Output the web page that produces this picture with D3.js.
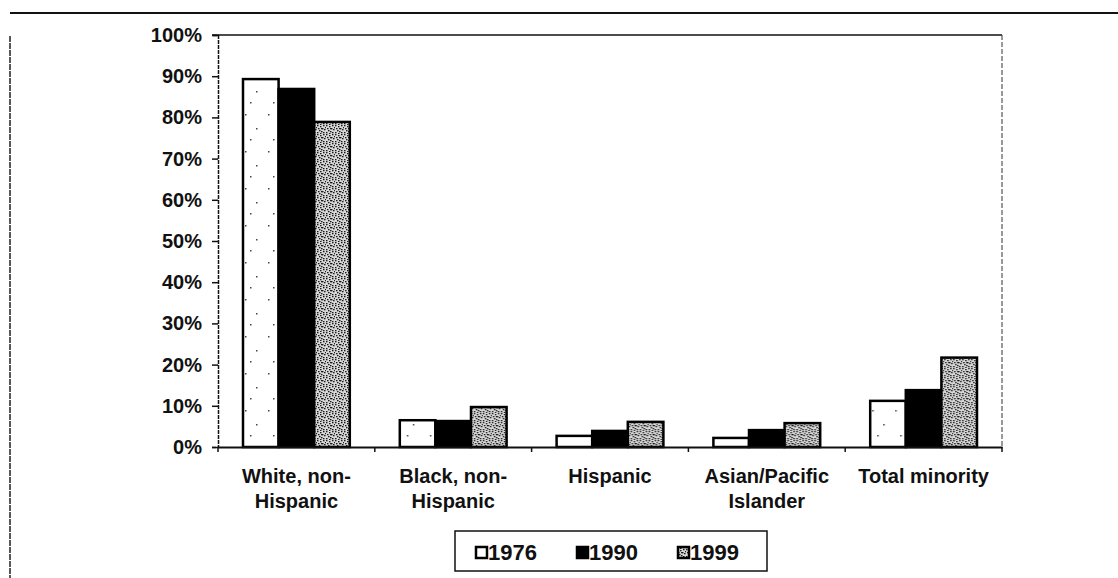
<!DOCTYPE html>
<html>
<head>
<meta charset="utf-8">
<script src="https://cdn.jsdelivr.net/npm/d3@7"></script>
<style>
  body { margin: 0; background: #fff; }
  svg text { font-family: "Liberation Sans", Arial, sans-serif; fill: #111; }
</style>
</head>
<body>
<svg id="chart"></svg>
<script>
// data (percent of students)
const categories = ["White, non-Hispanic", "Black, non-Hispanic", "Hispanic", "Asian/Pacific Islander", "Total minority"];
const categoryLines = [["White, non-", "Hispanic"], ["Black, non-", "Hispanic"], ["Hispanic"], ["Asian/Pacific", "Islander"], ["Total minority"]];
const years = ["1976", "1990", "1999"];
const values1976 = [89.3, 6.5, 2.7, 2.2, 11.2];
const values1990 = [86.9, 6.3, 3.9, 4.1, 13.8];
const values1999 = [78.9, 9.7, 6.1, 5.8, 21.7];
const yTicks = [0, 10, 20, 30, 40, 50, 60, 70, 80, 90, 100];

const W = 1118, H = 578;
const margin = { top: 35, right: 116, bottom: 131, left: 218 };
const width = W - margin.left - margin.right;
const height = H - margin.top - margin.bottom;

const svg = d3.select('#chart').attr('width', W).attr('height', H);

// fill patterns (scanned textures)
const defs = svg.append('defs');
const p76 = defs.append('pattern').attr('id', 'p1976').attr('patternUnits', 'userSpaceOnUse')
  .attr('width', 23).attr('height', 37);
p76.append('rect').attr('width', 23).attr('height', 37).attr('fill', '#fff');
[[4, 5], [15, 19], [9, 30]].forEach(d => p76.append('rect').attr('x', d[0]).attr('y', d[1]).attr('width', 1.5).attr('height', 1.5).attr('fill', '#444'));

const p99 = defs.append('pattern').attr('id', 'p1999').attr('patternUnits', 'userSpaceOnUse')
  .attr('width', 9).attr('height', 9);
p99.append('rect').attr('width', 9).attr('height', 9).attr('fill', '#d8d8d8');
[[0, 0], [3, 1], [6, 0], [1, 3], [5, 3], [7, 4], [2, 5], [4, 6], [0, 7], [6, 7], [8, 2], [3, 8], [4, 3]]
  .forEach(d => p99.append('rect').attr('x', d[0]).attr('y', d[1]).attr('width', 1.5).attr('height', 1.3).attr('fill', '#1a1a1a'));

const fills = { "1976": "url(#p1976)", "1990": "#000", "1999": "url(#p1999)" };
const seriesValues = { "1976": values1976, "1990": values1990, "1999": values1999 };

// outer frame of the figure
svg.append('line').attr('x1', 10).attr('x2', W).attr('y1', 13).attr('y2', 13)
  .attr('stroke', '#111').attr('stroke-width', 2);
svg.append('line').attr('x1', 10).attr('x2', 10).attr('y1', 36).attr('y2', H)
  .attr('stroke', '#222').attr('stroke-width', 1.5).attr('stroke-dasharray', '6,1');

const g = svg.append('g').attr('transform', `translate(${margin.left},${margin.top})`);

const x0 = d3.scaleBand().domain(categories).range([0, width]);
const x1 = d3.scaleBand().domain(years).range([25, x0.bandwidth() - 25]);
const y = d3.scaleLinear().domain([0, 100]).range([height, 0]);

// plot border (top + right)
g.append('line').attr('x1', -6).attr('x2', width).attr('y1', 0).attr('y2', 0)
  .attr('stroke', '#111').attr('stroke-width', 1.5);
g.append('line').attr('x1', width).attr('x2', width).attr('y1', 0).attr('y2', height)
  .attr('stroke', '#333').attr('stroke-width', 1).attr('stroke-dasharray', '5,2');

// y axis
const yAxis = g.append('g')
  .call(d3.axisLeft(y).tickValues(yTicks).tickFormat(d => d + '%').tickSize(6).tickPadding(10));
yAxis.select('.domain').attr('stroke', '#111').attr('stroke-width', 1.5).attr('stroke-dasharray', '4,1');
yAxis.selectAll('.tick line').attr('stroke', '#111').attr('stroke-width', 1.5);
yAxis.selectAll('text').attr('font-size', 20).attr('font-weight', 'bold').attr('fill', '#111')
  .attr('font-family', '"Liberation Sans", Arial, sans-serif');

// bars
const groups = g.selectAll('.cat').data(categories).enter().append('g')
  .attr('transform', d => `translate(${x0(d)},0)`);
groups.selectAll('rect')
  .data((c, i) => years.map(yr => ({ year: yr, value: seriesValues[yr][i] })))
  .enter().append('rect')
  .attr('x', d => x1(d.year))
  .attr('y', d => y(d.value))
  .attr('width', x1.bandwidth())
  .attr('height', d => height - y(d.value))
  .attr('fill', d => fills[d.year])
  .attr('stroke', '#000').attr('stroke-width', 2.5);

// x axis
const xAxis = g.append('g').attr('transform', `translate(0,${height})`)
  .call(d3.axisBottom(x0).tickSize(0).tickFormat(''));
xAxis.select('.domain').attr('stroke', '#111').attr('stroke-width', 2);
g.selectAll('.xtick').data(d3.range(categories.length + 1)).enter().append('line')
  .attr('x1', i => i * x0.step()).attr('x2', i => i * x0.step())
  .attr('y1', height).attr('y2', height + 5)
  .attr('stroke', '#111').attr('stroke-width', 1.5);

// category labels
categories.forEach((c, i) => {
  const t = g.append('text')
    .attr('x', x0(c) + x0.bandwidth() / 2)
    .attr('y', height + 36)
    .attr('text-anchor', 'middle')
    .attr('font-size', 20).attr('font-weight', 'bold');
  categoryLines[i].forEach((line, j) => {
    t.append('tspan').attr('x', x0(c) + x0.bandwidth() / 2).attr('dy', j === 0 ? 0 : 25).text(line);
  });
});

// legend
const legend = svg.append('g').attr('transform', 'translate(455,531)');
legend.append('rect').attr('width', 312).attr('height', 40)
  .attr('fill', '#fff').attr('stroke', '#111').attr('stroke-width', 1.5);
const legendX = d3.scalePoint().domain(years).range([20, 222]);
const items = legend.selectAll('.item').data(years).enter().append('g')
  .attr('transform', d => `translate(${legendX(d)},0)`);
items.append('rect').attr('x', 1).attr('y', 16).attr('width', 11).attr('height', 11)
  .attr('fill', d => fills[d]).attr('stroke', '#000').attr('stroke-width', 2.5);
items.append('text').attr('x', 13).attr('y', 29)
  .attr('font-size', 22).attr('font-weight', 'bold').text(d => d);
</script>
</body>
</html>
